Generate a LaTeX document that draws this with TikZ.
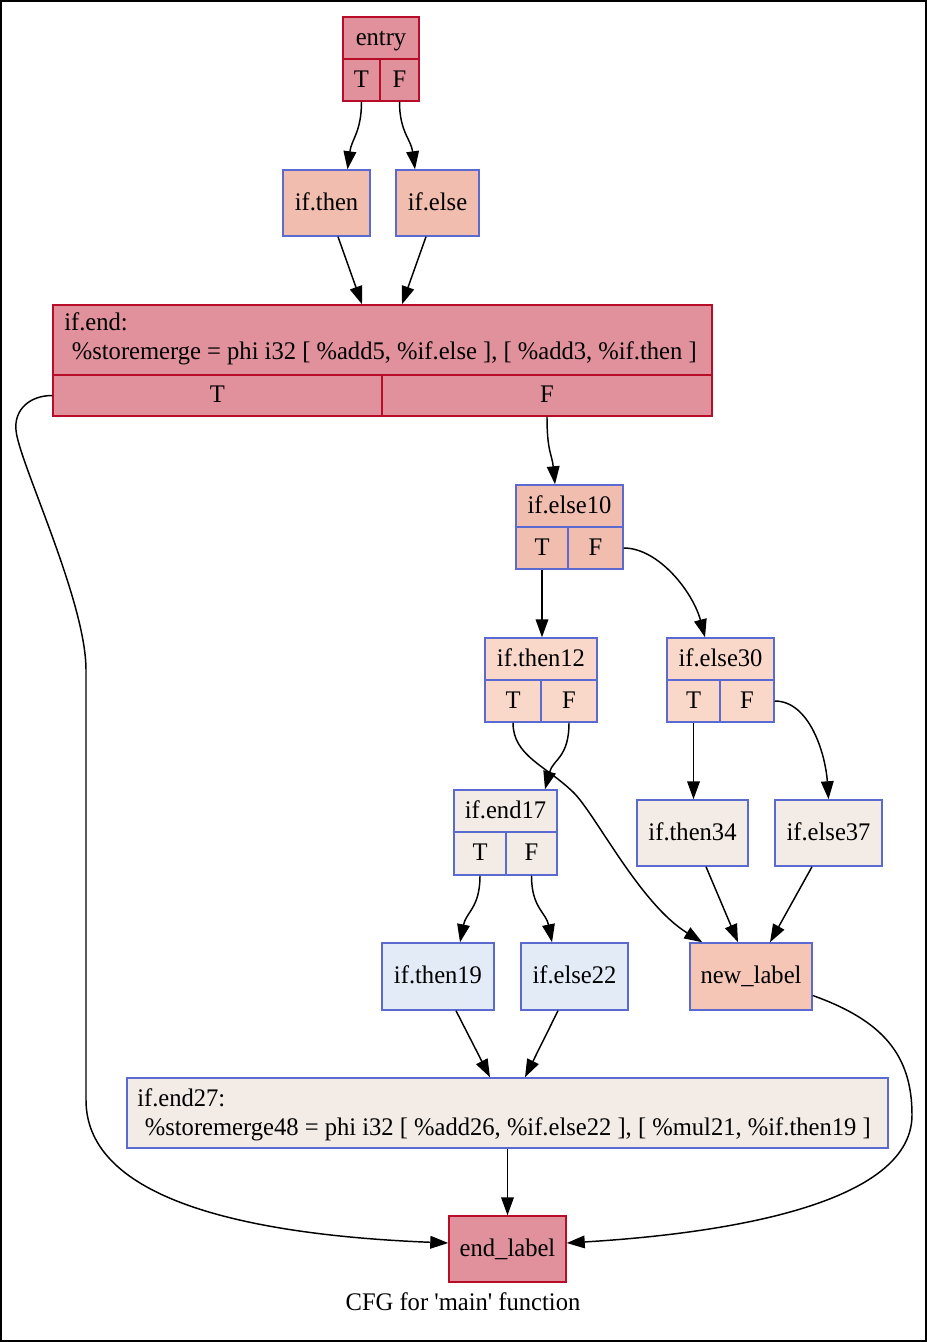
\documentclass[tikz,border=0pt]{standalone}
\usepackage{fontspec}
\setmainfont{Liberation Serif}[Ligatures=TeXOff, FakeStretch=0.97]
\usetikzlibrary{arrows.meta,fit,calc}

\definecolor{hotline}{HTML}{B70D28}
\definecolor{hotfill}{HTML}{E0919C}
\definecolor{coolline}{HTML}{5A6AD0}
\definecolor{warmfill}{HTML}{F1BDAF}
\definecolor{peachfill}{HTML}{F9D8CA}
\definecolor{palefill}{HTML}{F3EBE6}
\definecolor{bluefill}{HTML}{E3EBF7}
\definecolor{newfill}{HTML}{F5C6B5}

\begin{document}
\begin{tikzpicture}[x=0.75pt,y=-0.75pt,
  font=\fontsize{19}{22}\selectfont,
  blk/.style={rectangle, draw, line width=1.1pt, inner sep=0pt},
  hot/.style={blk, draw=hotline, fill=hotfill},
  warm/.style={blk, draw=coolline, fill=warmfill},
  peach/.style={blk, draw=coolline, fill=peachfill},
  pale/.style={blk, draw=coolline, fill=palefill},
  cool/.style={blk, draw=coolline, fill=bluefill},
  newb/.style={blk, draw=coolline, fill=newfill},
  cap/.style={label={[inner sep=0pt, text height=13pt, text depth=2.4pt]center:#1}},
  txt/.style={anchor=west, align=left, inner sep=0pt},
  edge/.style={line width=1.1pt, -{Triangle[length=13.5pt,width=9.5pt]}}]

\useasboundingbox (0,0) rectangle (927,1342);
\draw[line width=1.1pt] (1,1) rectangle (926,1341);

% entry block
\node[hot, fit={(343,17)(419,59)}, cap=entry] (entry) {};
\node[hot, fit={(343,59)(380,101)}, cap=T] (entryT) {};
\node[hot, fit={(380,59)(419,101)}, cap=F] (entryF) {};

\node[warm, fit={(283,170)(370,236)}, cap=if.then] (ifthen) {};
\node[warm, fit={(396,170)(479,236)}, cap=if.else] (ifelse) {};

% if.end block
\node[hot, fit={(53,305)(712,375)}] (ifend) {};
\node[txt] (ifendtext) at (64,339) {if.end:\\\hspace*{0.3em}\%storemerge = phi i32 [ \%add5, \%if.else ], [ \%add3, \%if.then ]};
\node[hot, fit={(53,375)(382,416)}, cap=T] (ifendT) {};
\node[hot, fit={(382,375)(712,416)}, cap=F] (ifendF) {};

% if.else10 block
\node[warm, fit={(516,485)(623,527)}, cap=if.else10] (ifelse10) {};
\node[warm, fit={(516,527)(568,569)}, cap=T] (ifelse10T) {};
\node[warm, fit={(568,527)(623,569)}, cap=F] (ifelse10F) {};

% if.then12 block
\node[peach, fit={(485,638)(597,680)}, cap=if.then12] (ifthen12) {};
\node[peach, fit={(485,680)(541,722)}, cap=T] (ifthen12T) {};
\node[peach, fit={(541,680)(597,722)}, cap=F] (ifthen12F) {};

% if.else30 block
\node[peach, fit={(667,638)(774,680)}, cap=if.else30] (ifelse30) {};
\node[peach, fit={(667,680)(720,722)}, cap=T] (ifelse30T) {};
\node[peach, fit={(720,680)(774,722)}, cap=F] (ifelse30F) {};

% if.end17 block
\node[pale, fit={(454,790)(557,832)}, cap=if.end17] (ifend17) {};
\node[pale, fit={(454,832)(506,875)}, cap=T] (ifend17T) {};
\node[pale, fit={(506,832)(557,875)}, cap=F] (ifend17F) {};

\node[pale, fit={(637,800)(748,866)}, cap=if.then34] (ifthen34) {};
\node[pale, fit={(775,800)(882,866)}, cap=if.else37] (ifelse37) {};

\node[cool, fit={(382,943)(494,1010)}, cap=if.then19] (ifthen19) {};
\node[cool, fit={(521,943)(628,1010)}, cap=if.else22] (ifelse22) {};
\node[newb, fit={(690,943)(812,1010)}, cap=new\_label] (newlabel) {};

% if.end27 block
\node[pale, fit={(127,1078)(888,1148)}] (ifend27) {};
\node[txt] (ifend27text) at (137,1115) {if.end27:\\\hspace*{0.3em}\%storemerge48 = phi i32 [ \%add26, \%if.else22 ], [ \%mul21, \%if.then19 ]};

\node[hot, fit={(449,1216)(566,1282)}, cap=end\_label] (endlabel) {};

\node (caption) at (463,1302) {CFG for 'main' function};

% connectors
\draw[edge] (entryT.south) .. controls +(0,30) and +(4,-30) .. ($(ifthen.north)+(21,0)$);
\draw[edge] (entryF.south) .. controls +(0,30) and +(-4,-30) .. ($(ifelse.north)+(-22.5,0)$);
\draw[edge] ($(ifthen.south)+(11.5,0)$) -- ($(ifend.north)+(-20.5,0)$);
\draw[edge] ($(ifelse.south)+(-11.5,0)$) -- ($(ifend.north)+(19.5,0)$);

\draw[edge] (ifendT.west) .. controls +(-23,0) and +(-2,-20) .. (16,430)
  .. controls +(2,30) and +(0,-70) .. (86,670)
  -- (86,1100)
  .. controls +(0,100) and +(-200,-8) .. ($(endlabel.west)+(0,-6)$);
\draw[edge] (ifendF.south) .. controls +(0,35) and +(-3,-30) .. ($(ifelse10.north)+(-14.5,0)$);

\draw[edge] (ifelse10T.south) -- (ifelse10T.south |- ifthen12.north);
\draw[edge] (ifelse10F.east) .. controls +(35,0) and +(-12,-45) .. ($(ifelse30.north)+(-15.5,0)$);

\draw[edge] (ifthen12T.south) .. controls +(0,33) and +(-28,-27) .. (573,792)
  .. controls +(22,21) and +(-63,-39) .. ($(newlabel.north west)+(13,0)$);
\draw[edge] (ifthen12F.south) .. controls +(0,35) and +(8,-30) .. ($(ifend17.north)+(39.5,0)$);

\draw[edge] (ifelse30T.south) -- (ifelse30T.south |- ifthen34.north);
\draw[edge] (ifelse30F.east) .. controls +(35,0) and +(-3,-45) .. (ifelse37.north);

\draw[edge] (ifend17T.south) .. controls +(0,32) and +(6,-30) .. ($(ifthen19.north)+(22,0)$);
\draw[edge] (ifend17F.south) .. controls +(0,32) and +(-6,-30) .. ($(ifelse22.north)+(-22.5,0)$);

\draw[edge] ($(ifthen34.south)+(13.5,0)$) -- ($(newlabel.north)+(-13,0)$);
\draw[edge] ($(ifelse37.south)+(-16.5,0)$) -- ($(newlabel.north)+(19,0)$);

\draw[edge] ($(ifthen19.south)+(18,0)$) -- ($(ifend27.north)+(-17.5,0)$);
\draw[edge] ($(ifelse22.south)+(-16.5,0)$) -- ($(ifend27.north)+(17.5,0)$);

\draw[edge] ($(newlabel.east)+(0,19)$) .. controls +(70,25) and +(0,-60) .. (912,1115)
  .. controls +(0,95) and +(134,-8) .. ($(endlabel.east)+(0,-6)$);
\draw[edge] (ifend27.south) -- (endlabel.north);

\end{tikzpicture}
\end{document}
